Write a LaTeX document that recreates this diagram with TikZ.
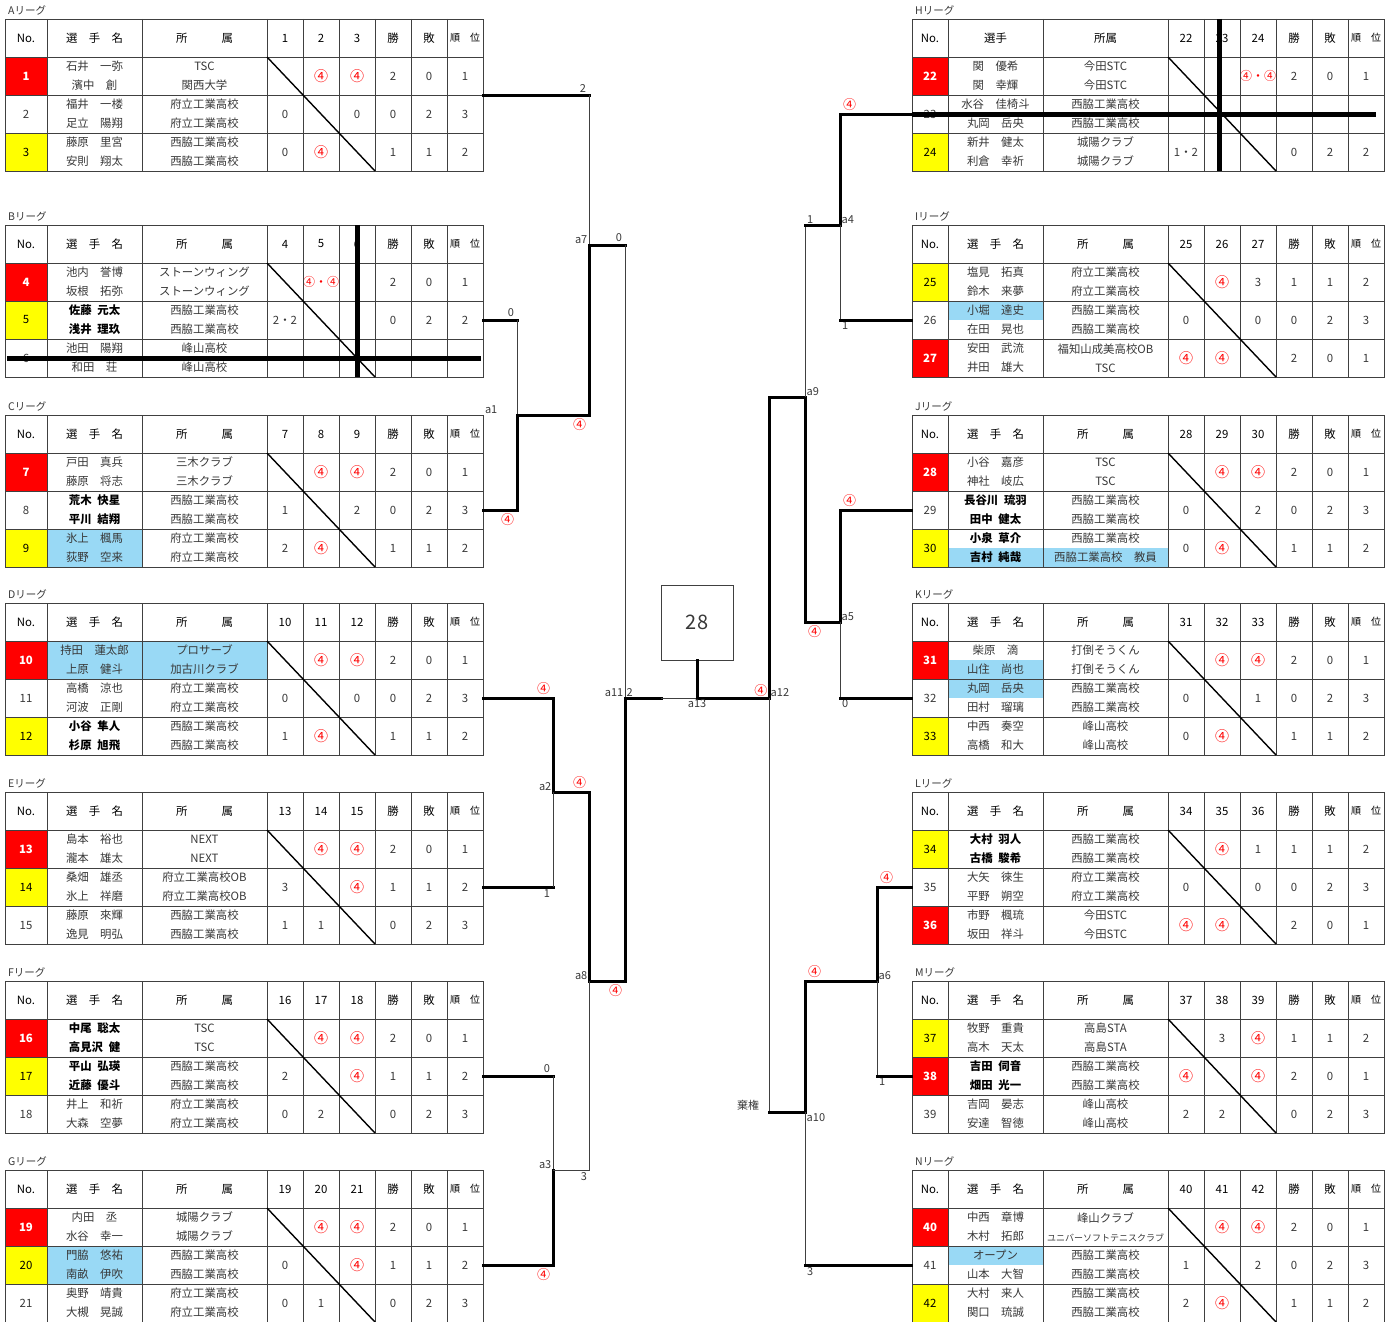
\documentclass[tikz,border=0pt]{standalone}
\usepackage{fontspec}
\setmainfont{Noto Sans CJK JP}
\usetikzlibrary{backgrounds}
\definecolor{firstred}{HTML}{FF0000}
\definecolor{secondyellow}{HTML}{FFFF00}
\definecolor{hiblue}{HTML}{99D9F5}
\definecolor{rulegray}{HTML}{404040}
\definecolor{txtgray}{HTML}{383838}

\newcommand{\won}{\textcolor{red}{\fontsize{14}{19}\selectfont ④}}
\newcommand{\wontwo}{\textcolor{red}{\fontsize{12}{19}\selectfont ④・④}}

% table header: letter, three numbers, name head, affiliation head
\newcommand{\lghead}[6]{%
  \node[anchor=west, inner sep=0, text=txtgray, font=\fontsize{10.5}{12}\selectfont] (t#1) at (3,-9) {#1リーグ};
  \node[cell, minimum width=\nw, text=black] (h#1-no) at (\nw/2,19) {No.};
  \node[nmcell, text=black] (h#1-nm) at (\nw+47.5,19) {#5};
  \node[afcell, text=black] (h#1-af) at (\nw+157.5,19) {#6};
  \node[sccell, text=black] (h#1-1) at (\nw+238,19) {#2};
  \node[sccell, text=black] (h#1-2) at (\nw+274,19) {#3};
  \node[sccell, text=black] (h#1-3) at (\nw+310,19) {#4};
  \node[sccell, text=black] (h#1-w) at (\nw+346,19) {勝};
  \node[sccell, text=black] (h#1-l) at (\nw+382,19) {敗};
  \node[sccell, text=black, font=\fontsize{10}{12}\selectfont] (h#1-r) at (\nw+418,19) {順　位};
}
% one player pair: row, no., no. style, names, affiliations, name style, affiliation style
\newcommand{\lgrow}[7]{%
  \node[cell, minimum width=\nw, #3] (p#2-no) at (\nw/2,38*#1+19) {#2};
  \node[nmcell, #6] (p#2-nm) at (\nw+47.5,38*#1+19) {#4};
  \node[afcell, #7] (p#2-af) at (\nw+157.5,38*#1+19) {#5};
}
% results: row, no., three games, won, lost, rank
\newcommand{\lgscore}[8]{%
  \node[sccell] (p#2-s1) at (\nw+238,38*#1+19) {#3};
  \node[sccell] (p#2-s2) at (\nw+274,38*#1+19) {#4};
  \node[sccell] (p#2-s3) at (\nw+310,38*#1+19) {#5};
  \node[sccell] (p#2-w) at (\nw+346,38*#1+19) {#6};
  \node[sccell] (p#2-l) at (\nw+382,38*#1+19) {#7};
  \node[sccell] (p#2-r) at (\nw+418,38*#1+19) {#8};
}
\newcommand{\lggrid}{%
  \draw[tabline] (0,0) rectangle (\nw+436,152);
  \foreach \yy in {38,76,114} \draw[tabline] (0,\yy) -- (\nw+436,\yy);
  \foreach \xx in {0,95,220,256,292,328,364,400} \draw[tabline] (\nw+\xx,0) -- (\nw+\xx,152);
  \draw[slash] (\nw+220,38) -- (\nw+328,152);
}

\begin{document}
\begin{tikzpicture}[
  x=1pt, y=-1pt,
  font=\fontsize{11.4}{19}\selectfont,
  cell/.style={inner sep=0, minimum height=38, align=center, text=txtgray},
  nmcell/.style={cell, minimum width=95},
  afcell/.style={cell, minimum width=125},
  sccell/.style={cell, minimum width=36},
  place1/.style={fill=firstred, text=white, font=\fontsize{11.4}{19}\selectfont\bfseries},
  place2/.style={fill=secondyellow, text=black},
  boldnm/.style={text=black, font=\fontsize{11.4}{19}\selectfont\bfseries},
  hilite/.style={fill=hiblue},
  tabline/.style={draw=rulegray, line width=0.9},
  slash/.style={black, line width=1.4},
  strike/.style={black, line width=5},
  wline/.style={black, line width=3, line cap=rect},
  lline/.style={rulegray, line width=1},
  lbl/.style={font=\fontsize{11}{13}\selectfont, text=txtgray, inner sep=1.5},
  wlbl/.style={lbl, text=red, font=\fontsize{13}{13}\selectfont},
]
\useasboundingbox (0,0) rectangle (1397,1322);

% ---- left leagues
\begin{scope}[shift={(5,19)}]\def\nw{42}
\lghead{A}{1}{2}{3}{選　手　名}{所　　　属}
\lgrow{1}{1}{place1}{石井　一弥\\濱中　創}{TSC\\関西大学}{}{}
\lgscore{1}{1}{}{\won}{\won}{2}{0}{1}
\lgrow{2}{2}{}{福井　一楼\\足立　陽翔}{府立工業高校\\府立工業高校}{}{}
\lgscore{2}{2}{0}{}{0}{0}{2}{3}
\lgrow{3}{3}{place2}{藤原　里宮\\安則　翔太}{西脇工業高校\\西脇工業高校}{}{}
\lgscore{3}{3}{0}{\won}{}{1}{1}{2}
\lggrid
\end{scope}

\begin{scope}[shift={(5,225)}]\def\nw{42}
\lghead{B}{4}{5}{6}{選　手　名}{所　　　属}
\lgrow{1}{4}{place1}{池内　誉博\\坂根　拓弥}{ストーンウィング\\ストーンウィング}{}{}
\lgscore{1}{4}{}{\wontwo}{}{2}{0}{1}
\lgrow{2}{5}{place2}{佐藤\enspace 元太\\浅井\enspace 理玖}{西脇工業高校\\西脇工業高校}{boldnm}{}
\lgscore{2}{5}{2・2}{}{}{0}{2}{2}
\lgrow{3}{6}{}{池田　陽翔\\和田　荘}{峰山高校\\峰山高校}{}{}
\lgscore{3}{6}{}{}{}{}{}{}
\lggrid
\end{scope}
\draw[strike] (hB-3.north) -- (p6-s3.south);
\draw[strike] ([xshift=2]p6-no.west) -- ([xshift=-2]p6-r.east);

\begin{scope}[shift={(5,415)}]\def\nw{42}
\lghead{C}{7}{8}{9}{選　手　名}{所　　　属}
\lgrow{1}{7}{place1}{戸田　真兵\\藤原　将志}{三木クラブ\\三木クラブ}{}{}
\lgscore{1}{7}{}{\won}{\won}{2}{0}{1}
\lgrow{2}{8}{}{荒木\enspace 快星\\平川\enspace 結翔}{西脇工業高校\\西脇工業高校}{boldnm}{}
\lgscore{2}{8}{1}{}{2}{0}{2}{3}
\lgrow{3}{9}{place2}{氷上　楓馬\\荻野　空来}{府立工業高校\\府立工業高校}{hilite}{}
\lgscore{3}{9}{2}{\won}{}{1}{1}{2}
\lggrid
\end{scope}

\begin{scope}[shift={(5,603)}]\def\nw{42}
\lghead{D}{10}{11}{12}{選　手　名}{所　　　属}
\lgrow{1}{10}{place1}{持田　蓮太郎\\上原　健斗}{プロサーブ\\加古川クラブ}{hilite}{hilite}
\lgscore{1}{10}{}{\won}{\won}{2}{0}{1}
\lgrow{2}{11}{}{高橋　涼也\\河波　正剛}{府立工業高校\\府立工業高校}{}{}
\lgscore{2}{11}{0}{}{0}{0}{2}{3}
\lgrow{3}{12}{place2}{小谷\enspace 隼人\\杉原\enspace 旭飛}{西脇工業高校\\西脇工業高校}{boldnm}{}
\lgscore{3}{12}{1}{\won}{}{1}{1}{2}
\lggrid
\end{scope}

\begin{scope}[shift={(5,792)}]\def\nw{42}
\lghead{E}{13}{14}{15}{選　手　名}{所　　　属}
\lgrow{1}{13}{place1}{島本　裕也\\瀧本　雄太}{NEXT\\NEXT}{}{}
\lgscore{1}{13}{}{\won}{\won}{2}{0}{1}
\lgrow{2}{14}{place2}{桑畑　雄丞\\氷上　祥磨}{府立工業高校OB\\府立工業高校OB}{}{}
\lgscore{2}{14}{3}{}{\won}{1}{1}{2}
\lgrow{3}{15}{}{藤原　來輝\\逸見　明弘}{西脇工業高校\\西脇工業高校}{}{}
\lgscore{3}{15}{1}{1}{}{0}{2}{3}
\lggrid
\end{scope}

\begin{scope}[shift={(5,981)}]\def\nw{42}
\lghead{F}{16}{17}{18}{選　手　名}{所　　　属}
\lgrow{1}{16}{place1}{中尾\enspace 聡太\\高見沢\enspace 健}{TSC\\TSC}{boldnm}{}
\lgscore{1}{16}{}{\won}{\won}{2}{0}{1}
\lgrow{2}{17}{place2}{平山\enspace 弘瑛\\近藤\enspace 優斗}{西脇工業高校\\西脇工業高校}{boldnm}{}
\lgscore{2}{17}{2}{}{\won}{1}{1}{2}
\lgrow{3}{18}{}{井上　和祈\\大森　空夢}{府立工業高校\\府立工業高校}{}{}
\lgscore{3}{18}{0}{2}{}{0}{2}{3}
\lggrid
\end{scope}

\begin{scope}[shift={(5,1170)}]\def\nw{42}
\lghead{G}{19}{20}{21}{選　手　名}{所　　　属}
\lgrow{1}{19}{place1}{内田　丞\\水谷　幸一}{城陽クラブ\\城陽クラブ}{}{}
\lgscore{1}{19}{}{\won}{\won}{2}{0}{1}
\lgrow{2}{20}{place2}{門脇　悠祐\\南畝　伊吹}{西脇工業高校\\西脇工業高校}{hilite}{}
\lgscore{2}{20}{0}{}{\won}{1}{1}{2}
\lgrow{3}{21}{}{奥野　靖貴\\大槻　晃誠}{府立工業高校\\府立工業高校}{}{}
\lgscore{3}{21}{0}{1}{}{0}{2}{3}
\lggrid
\end{scope}

% ---- right leagues
\begin{scope}[shift={(912,19)}]\def\nw{36}
\lghead{H}{22}{23}{24}{選手}{所属}
\lgrow{1}{22}{place1}{関　優希\\関　幸輝}{今田STC\\今田STC}{}{}
\lgscore{1}{22}{}{}{\wontwo}{2}{0}{1}
\lgrow{2}{23}{}{水谷　佳椅斗\\丸岡　岳央}{西脇工業高校\\西脇工業高校}{}{}
\lgscore{2}{23}{}{}{}{}{}{}
\lgrow{3}{24}{place2}{新井　健太\\利倉　幸祈}{城陽クラブ\\城陽クラブ}{}{}
\lgscore{3}{24}{1・2}{}{}{0}{2}{2}
\lggrid
\end{scope}
\draw[strike] ([xshift=-3]hH-2.north) -- ([xshift=-3]p24-s2.south);
\draw[strike] (p23-no.west) -- ([xshift=-8]p23-r.east);

\begin{scope}[shift={(912,225)}]\def\nw{36}
\lghead{I}{25}{26}{27}{選　手　名}{所　　　属}
\lgrow{1}{25}{place2}{塩見　拓真\\鈴木　来夢}{府立工業高校\\府立工業高校}{}{}
\lgscore{1}{25}{}{\won}{3}{1}{1}{2}
\lgrow{2}{26}{}{小堀　達史\\在田　晃也}{西脇工業高校\\西脇工業高校}{}{}
\lgscore{2}{26}{0}{}{0}{0}{2}{3}
\lgrow{3}{27}{place1}{安田　武流\\井田　雄大}{福知山成美高校OB\\TSC}{}{}
\lgscore{3}{27}{\won}{\won}{}{2}{0}{1}
\begin{scope}[on background layer]
  \fill[hiblue] (p26-nm.north west) rectangle (p26-nm.east);
\end{scope}
\lggrid
\end{scope}

\begin{scope}[shift={(912,415)}]\def\nw{36}
\lghead{J}{28}{29}{30}{選　手　名}{所　　　属}
\lgrow{1}{28}{place1}{小谷　嘉彦\\神社　岐広}{TSC\\TSC}{}{}
\lgscore{1}{28}{}{\won}{\won}{2}{0}{1}
\lgrow{2}{29}{}{長谷川\enspace 琉羽\\田中\enspace 健太}{西脇工業高校\\西脇工業高校}{boldnm}{}
\lgscore{2}{29}{0}{}{2}{0}{2}{3}
\lgrow{3}{30}{place2}{小泉\enspace 草介\\吉村\enspace 純哉}{西脇工業高校\\西脇工業高校　教員}{boldnm}{}
\lgscore{3}{30}{0}{\won}{}{1}{1}{2}
\begin{scope}[on background layer]
  \fill[hiblue] (p30-nm.west) rectangle (p30-nm.south east);
  \fill[hiblue] (p30-af.west) rectangle (p30-af.south east);
\end{scope}
\lggrid
\end{scope}

\begin{scope}[shift={(912,603)}]\def\nw{36}
\lghead{K}{31}{32}{33}{選　手　名}{所　　　属}
\lgrow{1}{31}{place1}{柴原　滴\\山住　尚也}{打倒そうくん\\打倒そうくん}{}{}
\lgscore{1}{31}{}{\won}{\won}{2}{0}{1}
\lgrow{2}{32}{}{丸岡　岳央\\田村　瑠璃}{西脇工業高校\\西脇工業高校}{}{}
\lgscore{2}{32}{0}{}{1}{0}{2}{3}
\lgrow{3}{33}{place2}{中西　奏空\\高橋　和大}{峰山高校\\峰山高校}{}{}
\lgscore{3}{33}{0}{\won}{}{1}{1}{2}
\begin{scope}[on background layer]
  \fill[hiblue] (p31-nm.west) rectangle (p31-nm.south east);
  \fill[hiblue] (p32-nm.north west) rectangle (p32-nm.east);
\end{scope}
\lggrid
\end{scope}

\begin{scope}[shift={(912,792)}]\def\nw{36}
\lghead{L}{34}{35}{36}{選　手　名}{所　　　属}
\lgrow{1}{34}{place2}{大村\enspace 羽人\\古橋\enspace 駿希}{西脇工業高校\\西脇工業高校}{boldnm}{}
\lgscore{1}{34}{}{\won}{1}{1}{1}{2}
\lgrow{2}{35}{}{大矢　徠生\\平野　朔空}{府立工業高校\\府立工業高校}{}{}
\lgscore{2}{35}{0}{}{0}{0}{2}{3}
\lgrow{3}{36}{place1}{市野　楓琉\\坂田　祥斗}{今田STC\\今田STC}{}{}
\lgscore{3}{36}{\won}{\won}{}{2}{0}{1}
\lggrid
\end{scope}

\begin{scope}[shift={(912,981)}]\def\nw{36}
\lghead{M}{37}{38}{39}{選　手　名}{所　　　属}
\lgrow{1}{37}{place2}{牧野　重貴\\高木　天太}{高島STA\\高島STA}{}{}
\lgscore{1}{37}{}{3}{\won}{1}{1}{2}
\lgrow{2}{38}{place1}{吉田\enspace 伺音\\畑田\enspace 光一}{西脇工業高校\\西脇工業高校}{boldnm}{}
\lgscore{2}{38}{\won}{}{\won}{2}{0}{1}
\lgrow{3}{39}{}{吉岡　晏志\\安達　智徳}{峰山高校\\峰山高校}{}{}
\lgscore{3}{39}{2}{2}{}{0}{2}{3}
\lggrid
\end{scope}

\begin{scope}[shift={(912,1170)}]\def\nw{36}
\lghead{N}{40}{41}{42}{選　手　名}{所　　　属}
\lgrow{1}{40}{place1}{中西　章博\\木村　拓郎}{峰山クラブ\\{\fontsize{9}{19}\selectfont ユニバーソフトテニスクラブ}}{}{}
\lgscore{1}{40}{}{\won}{\won}{2}{0}{1}
\lgrow{2}{41}{}{オープン\\山本　大智}{西脇工業高校\\西脇工業高校}{}{}
\lgscore{2}{41}{1}{}{2}{0}{2}{3}
\lgrow{3}{42}{place2}{大村　来人\\関口　琉誠}{西脇工業高校\\西脇工業高校}{}{}
\lgscore{3}{42}{2}{\won}{}{1}{1}{2}
\begin{scope}[on background layer]
  \fill[hiblue] (p41-nm.north west) rectangle (p41-nm.east);
\end{scope}
\lggrid
\end{scope}

% ---- bracket
\coordinate (a1) at (517,415);
\coordinate (a7) at (589,245);
\coordinate (a2) at (553,792);
\coordinate (a3) at (553,1170);
\coordinate (a8) at (589,981);
\coordinate (a11) at (625,698);
\coordinate (a11e) at (661,698);
\coordinate (a13) at (697,698);
\coordinate (a12) at (769,698);
\coordinate (a9) at (805,397);
\coordinate (a4) at (840,225);
\coordinate (a5) at (840,622);
\coordinate (a10) at (805,1112);
\coordinate (a6) at (877,981);

\node[draw=rulegray, line width=1, minimum width=72, minimum height=75,
      font=\fontsize{20}{24}\selectfont, text=txtgray] (champ) at (697,622.5) {28};

% left side
\draw[wline] (p1-r.south east) -- (p1-r.south east -| a7) node[lbl, above left] (mA) {2};
\draw[lline] (p1-r.south east -| a7) -- (a7);
\draw[wline] (p5-r.east) -- (p5-r.east -| a1) node[lbl, above left] (mB) {0};
\draw[lline] (p5-r.east -| a1) -- (a1);
\draw[wline] (p8-r.east) -- (p8-r.east -| a1) node[wlbl, below left] (mC) {④}
  -- (a1) -- (a1 -| a7) node[wlbl, below left] (m1) {④}
  -- (a7) -- (a7 -| a11) node[lbl, above left] (m7) {0};
\draw[lline] (a7 -| a11) -- (a11);
\draw[wline] (p11-r.east) -- (p11-r.east -| a2) node[wlbl, above left] (mD) {④}
  -- (a2) -- (a2 -| a8) node[wlbl, above left] (m2) {④}
  -- (a8) -- (a8 -| a11) node[wlbl, below left] (m8) {④} -- (a11) -- (a11e);
\draw[wline] (p14-r.east) -- (p14-r.east -| a2) node[lbl, below left] (mE) {1};
\draw[lline] (p14-r.east -| a2) -- (a2);
\draw[wline] (p17-r.east) -- (p17-r.east -| a3) node[lbl, above left] (mF) {0};
\draw[lline] (p17-r.east -| a3) -- (a3);
\draw[wline] (p20-r.east) -- (p20-r.east -| a3) node[wlbl, below left] (mG) {④} -- (a3);
\draw[lline] (a3) -- (a3 -| a8) node[lbl, below left] (m3) {3} -- (a8);
\draw[lline] (a11e) -- (a13);
\node[lbl, above right] (m11) at (a11) {2};

% final
\draw[wline] (a12) -- (a13) -- (champ.south);
\node[wlbl, above left] (m12) at (a12) {④};

% right side
\draw[wline] (a12) -- (a12 |- a9) -- (a9) -- (a9 |- a5) node[wlbl, below right] (m9) {④}
  -- (a5) -- (a5 |- p29-no.west) node[wlbl, above right] (mJ) {④} -- (p29-no.west);
\draw[lline] (a5) -- (a5 |- p32-no.west) node[lbl, below right] (mK) {0};
\draw[wline] (a5 |- p32-no.west) -- (p32-no.west);
\draw[lline] (a9) -- (a9 |- a4) node[lbl, above right] (m4) {1};
\draw[wline] (a9 |- a4) -- (a4) -- (a4 |- p23-no.west) node[wlbl, above right] (mH) {④} -- (p23-no.west);
\draw[lline] (a4) -- (a4 |- p26-no.west) node[lbl, below right] (mI) {1};
\draw[wline] (a4 |- p26-no.west) -- (p26-no.west);
\draw[lline] (a12) -- (a12 |- a10) node[lbl, above left, xshift=-8] (m10) {棄権};
\draw[wline] (a12 |- a10) -- (a10) -- (a10 |- a6) node[wlbl, above right] (m6) {④}
  -- (a6) -- (a6 |- p35-no.west) node[wlbl, above right] (mL) {④} -- (p35-no.west);
\draw[lline] (a6) -- (a6 |- p38-no.west) node[lbl, below right] (mM) {1};
\draw[wline] (a6 |- p38-no.west) -- (p38-no.west);
\draw[lline] (a10) -- (a10 |- p41-no.west) node[lbl, below right] (mN) {3};
\draw[wline] (a10 |- p41-no.west) -- (p41-no.west);

% junction names
\node[lbl, above left, xshift=-18] (l1) at (a1) {a1};
\node[lbl, above left] (l7) at (a7) {a7};
\node[lbl, above left] (l2) at (a2) {a2};
\node[lbl, above left] (l3) at (a3) {a3};
\node[lbl, above left] (l8) at (a8) {a8};
\node[lbl, above left] (l11) at (a11) {a11};
\node[lbl, below] (l13) at (a13) {a13};
\node[lbl, above right] (l12) at (a12) {a12};
\node[lbl, above right] (l9) at (a9) {a9};
\node[lbl, above right] (l4) at (a4) {a4};
\node[lbl, above right] (l5) at (a5) {a5};
\node[lbl, below right] (l10) at (a10) {a10};
\node[lbl, above right] (l6) at (a6) {a6};
\end{tikzpicture}
\end{document}
